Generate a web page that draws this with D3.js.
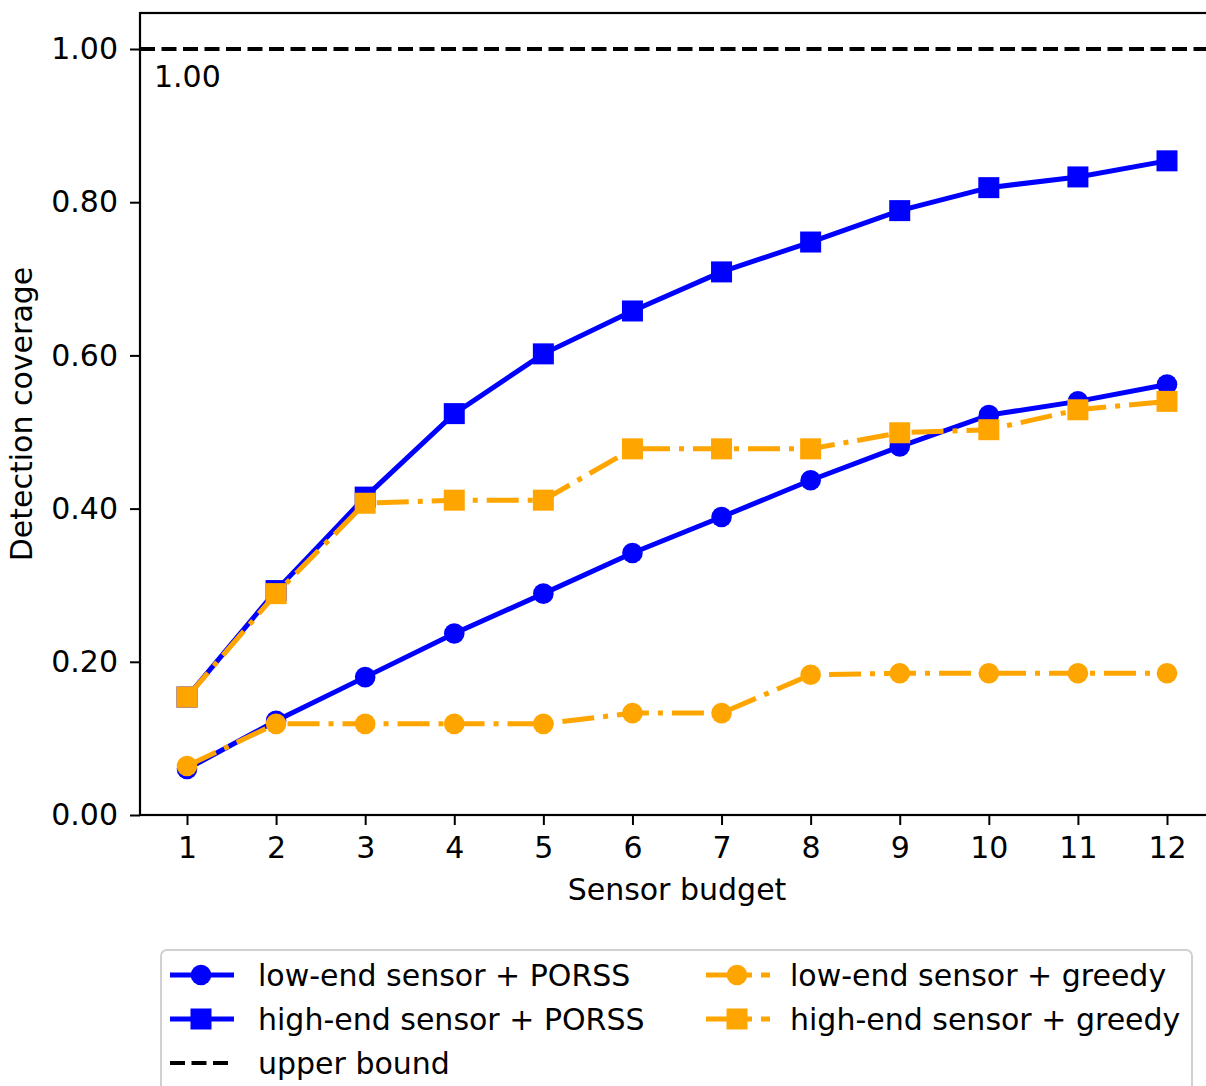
<!DOCTYPE html>
<html>
<head>
<meta charset="utf-8">
<script src="https://cdn.jsdelivr.net/npm/d3@7"></script>
<style>
  body { margin: 0; background: #fff; }
  text { font-family: "DejaVu Sans", sans-serif; }
</style>
</head>
<body>
<div id="chart"></div>
<script>
// data
var budgets = [1, 2, 3, 4, 5, 6, 7, 8, 9, 10, 11, 12];
var lowPorss  = [0.060, 0.123, 0.180, 0.237, 0.289, 0.342, 0.389, 0.437, 0.481, 0.522, 0.540, 0.562];
var highPorss = [0.154, 0.293, 0.415, 0.524, 0.602, 0.658, 0.709, 0.748, 0.789, 0.819, 0.833, 0.854];
var lowGreedy  = [0.064, 0.119, 0.119, 0.119, 0.119, 0.133, 0.133, 0.183, 0.185, 0.185, 0.185, 0.185];
var highGreedy = [0.154, 0.289, 0.407, 0.411, 0.411, 0.478, 0.478, 0.478, 0.499, 0.503, 0.529, 0.540];
var upperBound = 1.0;
var yTicks = [0, 0.2, 0.4, 0.6, 0.8, 1.0];

var W = 1206, H = 1086;
var plotLeft = 140, plotTop = 13, plotBottom = 815, plotRight = 1218;
var fs = 30;

var svg = d3.select("#chart").append("svg")
    .attr("width", W)
    .attr("height", H);

var x = d3.scaleLinear().domain([1, 12]).range([187, 1167]);
var y = d3.scaleLinear().domain([0, 1]).range([plotBottom, 49]);

var blue = "#0000ff", orange = "#ffa500";
var dashDot = "32,9,5,9";

// axes
var xAxis = svg.append("g")
    .attr("transform", "translate(0," + plotBottom + ")")
    .call(d3.axisBottom(x).tickValues(budgets).tickFormat(d3.format("d"))
        .tickSize(10).tickPadding(12).tickSizeOuter(0));
var yAxis = svg.append("g")
    .attr("transform", "translate(" + plotLeft + ",0)")
    .call(d3.axisLeft(y).tickValues(yTicks).tickFormat(d3.format(".2f"))
        .tickSize(10).tickPadding(12).tickSizeOuter(0));
[xAxis, yAxis].forEach(function(g) {
  g.select(".domain").remove();
  g.selectAll(".tick line").attr("stroke", "#000").attr("stroke-width", 2);
  g.selectAll(".tick text").attr("font-size", fs).attr("fill", "#000")
    .style("font-family", "DejaVu Sans");
});

// frame
svg.append("rect")
    .attr("x", plotLeft).attr("y", plotTop)
    .attr("width", plotRight - plotLeft).attr("height", plotBottom - plotTop)
    .attr("fill", "none").attr("stroke", "#000").attr("stroke-width", 2.2);

// axis labels
svg.append("text")
    .attr("x", 677).attr("y", 900)
    .attr("text-anchor", "middle").attr("font-size", fs)
    .text("Sensor budget");
svg.append("text")
    .attr("transform", "translate(32," + ((plotTop + plotBottom) / 2) + ") rotate(-90)")
    .attr("text-anchor", "middle").attr("font-size", fs)
    .text("Detection coverage");

var series = [
  {name: "low-end sensor + PORSS", vals: lowPorss, color: blue, dash: null, marker: "circle"},
  {name: "high-end sensor + PORSS", vals: highPorss, color: blue, dash: null, marker: "square"},
  {name: "low-end sensor + greedy", vals: lowGreedy, color: orange, dash: dashDot, marker: "circle"},
  {name: "high-end sensor + greedy", vals: highGreedy, color: orange, dash: dashDot, marker: "square"}
];

var line = d3.line()
    .x(function(d) { return x(d.b); })
    .y(function(d) { return y(d.v); });

function drawMarker(g, type, cx, cy, color) {
  if (type == "circle") {
    g.append("circle").attr("cx", cx).attr("cy", cy).attr("r", 10.3)
      .attr("fill", color);
  } else {
    g.append("rect").attr("x", cx - 10.5).attr("y", cy - 10.5)
      .attr("width", 21).attr("height", 21).attr("fill", color);
  }
}

// upper bound
svg.append("line")
    .attr("x1", plotLeft).attr("x2", plotRight)
    .attr("y1", y(upperBound)).attr("y2", y(upperBound))
    .attr("stroke", "#000").attr("stroke-width", 4.2)
    .attr("stroke-dasharray", "15,6.5");
svg.append("text")
    .attr("x", 154).attr("y", 87)
    .attr("font-size", fs)
    .text(d3.format(".2f")(upperBound));

series.forEach(function(s) {
  var pts = budgets.map(function(b, i) { return {b: b, v: s.vals[i]}; });
  var g = svg.append("g");
  g.append("path")
    .datum(pts)
    .attr("d", line)
    .attr("fill", "none")
    .attr("stroke", s.color)
    .attr("stroke-width", 5)
    .attr("stroke-dasharray", s.dash);
  pts.forEach(function(p) { drawMarker(g, s.marker, x(p.b), y(p.v), s.color); });
});

// legend
var legend = svg.append("g");
legend.append("rect")
    .attr("x", 161).attr("y", 950)
    .attr("width", 1031).attr("height", 160)
    .attr("rx", 6)
    .attr("fill", "#fff").attr("stroke", "#d0d0d0").attr("stroke-width", 2);

var legendItems = [
  {s: series[0], col: 0, row: 0},
  {s: series[1], col: 0, row: 1},
  {s: {name: "upper bound", color: "#000", dash: "15,6.5", marker: null, lw: 4.2}, col: 0, row: 2},
  {s: series[2], col: 1, row: 0},
  {s: series[3], col: 1, row: 1}
];
var colX = [170, 706], textX = [258, 790];
legendItems.forEach(function(it) {
  var ly = 975 + it.row * 44;
  var x0 = colX[it.col];
  legend.append("line")
    .attr("x1", x0).attr("x2", x0 + 64)
    .attr("y1", ly).attr("y2", ly)
    .attr("stroke", it.s.color)
    .attr("stroke-width", it.s.lw || 5)
    .attr("stroke-dasharray", it.s.dash);
  if (it.s.marker) drawMarker(legend, it.s.marker, x0 + 31, ly, it.s.color);
  legend.append("text")
    .attr("x", textX[it.col]).attr("y", ly + 11)
    .attr("font-size", fs)
    .text(it.s.name);
});
</script>
</body>
</html>
